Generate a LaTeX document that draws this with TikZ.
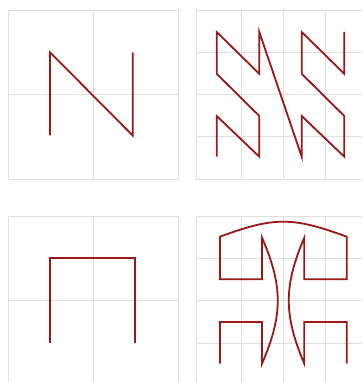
\documentclass[tikz,border=0pt]{standalone}
\definecolor{curvered}{RGB}{155,24,24}
\definecolor{gridgray}{RGB}{224,224,224}
\tikzset{
  gridline/.style={draw=gridgray, line width=0.9pt},
  curveline/.style={draw=curvered, line width=1.8pt, line join=miter},
}
\begin{document}
\begin{tikzpicture}[x=1pt,y=-1pt]
\useasboundingbox (0,0) rectangle (362,382);
\clip (0,0) rectangle (362,382);
\fill[white] (0,0) rectangle (362,382);
% ---- top-left panel
\draw[gridline] (8,10) rectangle (178,179);
\draw[gridline] (93,10) -- (93,179);
\draw[gridline] (8,94.5) -- (178,94.5);
\draw[curveline] (50,135.5) -- (50,52.3) -- (132.7,135.5) -- (132.7,52.3);
% ---- top-right panel
\draw[gridline] (196.7,10) rectangle (368,179);
\foreach \gx in {241,283.3,325.7} \draw[gridline] (\gx,10) -- (\gx,179);
\foreach \gy in {52.3,94.5,136.7} \draw[gridline] (196.7,\gy) -- (368,\gy);
\draw[curveline]
  (216.7,156.7) -- (216.7,116) -- (259.3,156.7) -- (259.3,116)
  -- (216.7,73.8) -- (216.7,32) -- (259.3,73.8) -- (259.3,32)
  -- (301.7,156.7) -- (301.7,116) -- (344.3,156.7) -- (344.3,116)
  -- (301.7,73.8) -- (301.7,32) -- (344.3,73.8) -- (344.3,32);
% ---- bottom-left panel
\draw[gridline] (8,216) rectangle (178,385);
\draw[gridline] (93,216) -- (93,385);
\draw[gridline] (8,300.3) -- (178,300.3);
\draw[curveline, line width=2.1pt] (50,342.7) -- (50,258.3) -- (135,258.3) -- (135,342.7);
% ---- bottom-right panel
\draw[gridline] (196.7,216) rectangle (368,385);
\foreach \gx in {241,283.3,325.7} \draw[gridline] (\gx,216) -- (\gx,385);
\foreach \gy in {258.3,300.3,343.3} \draw[gridline] (196.7,\gy) -- (368,\gy);
\draw[curveline]
  (220,363.7) -- (220,322) -- (262,322) -- (262,363.7)
  .. controls (283,315) and (283,286) .. (262,237.7)
  -- (262,279.3) -- (220,279.3) -- (220,236.7)
  .. controls (274,216.7) and (292.7,216.7) .. (346.7,236.7)
  -- (346.7,279.3) -- (304.3,279.3) -- (304.3,237.7)
  .. controls (283.6,286) and (283.6,315) .. (304.3,363.7)
  -- (304.3,322) -- (346.7,322) -- (346.7,363.7);
\end{tikzpicture}
\end{document}
